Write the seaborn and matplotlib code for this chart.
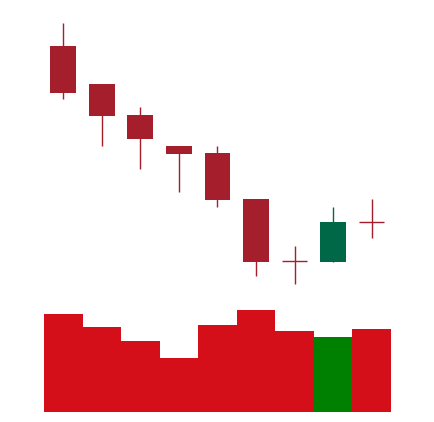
import numpy as np
import pandas as pd
import matplotlib
matplotlib.use("Agg")
import matplotlib.pyplot as plt
import seaborn as sns

# 데이터
days = list(range(9))
open_ = [35.4, 31.6, 28.5, 25.4, 24.7, 20.1, 13.9, 13.8, 17.8]
high = [37.7, 31.6, 29.3, 25.4, 25.4, 20.1, 15.4, 19.3, 20.1]
low = [30.1, 25.4, 23.1, 20.8, 19.3, 12.4, 11.6, 13.8, 16.2]
close = [30.7, 28.4, 26.1, 24.6, 20.0, 13.8, 13.9, 17.8, 17.8]
volume = [9800, 8500, 7100, 5400, 8700, 10200, 8100, 7500, 8300]

up_color = "#006747"
down_color = "#a51e2b"
vol_up = "#008000"
vol_down = "#d40f1a"

df = pd.DataFrame({"day": days, "open": open_, "high": high, "low": low,
                   "close": close, "volume": volume})
df["dir"] = np.where(df["close"] > df["open"], "up", "down")

sns.set_style("white")
fig = plt.figure(figsize=(4.34, 4.22), dpi=100)

# 1. 캔들 차트
ax = fig.add_axes([44 / 434, 132 / 422, 347 / 434, 275 / 422])
for _, r in df.iterrows():
    c = up_color if r["dir"] == "up" else down_color
    ax.vlines(r["day"], r["low"], r["high"], color=c, linewidth=1.0, zorder=1)
    if r["open"] == r["close"]:
        ax.hlines(r["open"], r["day"] - 0.32, r["day"] + 0.32, color=c, linewidth=1.0, zorder=2)
    else:
        lo = min(r["open"], r["close"])
        ax.bar(r["day"], abs(r["close"] - r["open"]), bottom=lo, width=0.67,
               color=c, linewidth=0, zorder=2)
ax.set_xlim(-0.5, 8.5)
ax.set_ylim(11.0, 38.5)
ax.axis("off")

# 2. 거래량
ax2 = fig.add_axes([44 / 434, 10.3 / 422, 347 / 434, 110 / 422])
sns.barplot(data=df, x="day", y="volume", hue="dir", palette={"up": vol_up, "down": vol_down},
            dodge=False, width=1.0, saturation=1, legend=False, linewidth=0, ax=ax2)
ax2.set_xlim(-0.5, 8.5)
ax2.set_ylim(0, 11000)
ax2.axis("off")

fig.savefig("out.png", dpi=100)
